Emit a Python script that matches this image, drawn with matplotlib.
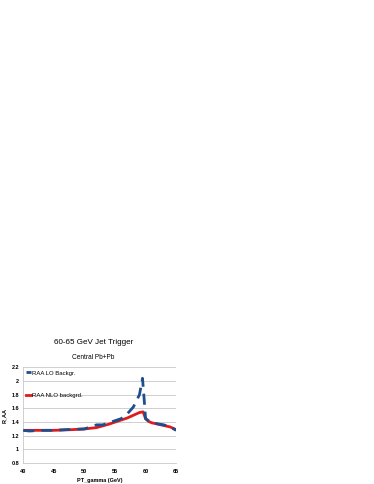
import matplotlib
matplotlib.use('Agg')
import matplotlib.pyplot as plt

plt.rcParams['font.family'] = ['Liberation Sans', 'DejaVu Sans']

# PT_gamma (GeV) and R_AA for the two backgrounds
pt_lo = [40, 41, 43, 45, 47, 50, 52, 53, 55, 56, 57, 58, 59, 59.5, 59.8, 60, 61, 63, 64, 65]
raa_lo = [1.28, 1.27, 1.28, 1.28, 1.29, 1.30, 1.36, 1.36, 1.42, 1.45, 1.52, 1.62, 1.80, 2.04, 1.70, 1.45, 1.39, 1.36, 1.33, 1.28]

pt_nlo = [40, 42, 45, 48, 50, 52, 54, 55, 56, 57, 58, 59, 59.6, 60, 60.5, 61, 63, 64, 65]
raa_nlo = [1.28, 1.28, 1.28, 1.29, 1.30, 1.32, 1.37, 1.40, 1.43, 1.46, 1.50, 1.54, 1.55, 1.45, 1.41, 1.39, 1.35, 1.33, 1.29]

xticks = [40, 45, 50, 55, 60, 65]
yticks = [0.8, 1, 1.2, 1.4, 1.6, 1.8, 2, 2.2]

fig = plt.figure(figsize=(3.74, 4.84), dpi=100)
ax = fig.add_axes([0.062, 0.043, 0.409, 0.198])

ax.plot(pt_nlo, raa_nlo, color='#dd1c1c', lw=2.0, label='RAA NLO backgrd.', zorder=2)
ax.plot(pt_lo, raa_lo, color='#1f4e8c', lw=2.0, ls=(0, (4, 2.5)), label='RAA LO Backgr.', zorder=3)

ax.set_xlim(40, 65)
ax.set_ylim(0.8, 2.2)
ax.set_xticks(xticks)
ax.set_xticklabels([str(v) for v in xticks], fontweight='bold')
ax.set_yticks(yticks)
ax.set_yticklabels([f'{v:g}' for v in yticks], fontweight='bold')
ax.tick_params(labelsize=4, length=0)
ax.tick_params(axis='x', pad=4)
ax.tick_params(axis='y', pad=3)
ax.grid(axis='y', color='#c8c8c8', lw=0.6)
ax.set_axisbelow(True)
for s in ['top', 'right']:
    ax.spines[s].set_visible(False)
for s in ['left', 'bottom']:
    ax.spines[s].set_color('#c8c8c8')
    ax.spines[s].set_linewidth(0.6)

ax.set_xlabel('PT_gamma (GeV)', fontsize=4, fontweight='bold', labelpad=3)
ax.set_ylabel('R_AA', fontsize=4, fontweight='bold', labelpad=3)

handles, labels = ax.get_legend_handles_labels()
ax.legend(handles[::-1], labels[::-1], loc='upper left', fontsize=4.3, frameon=False,
          handlelength=0.8, handletextpad=0.2, labelspacing=2.9,
          borderaxespad=0.2, borderpad=0.3)

fig.text(0.25, 0.293, '60-65 GeV Jet Trigger', ha='center', va='center', fontsize=5.8)
fig.text(0.25, 0.262, 'Central Pb+Pb', ha='center', va='center', fontsize=4.7)

fig.savefig('out.png', dpi=100)
